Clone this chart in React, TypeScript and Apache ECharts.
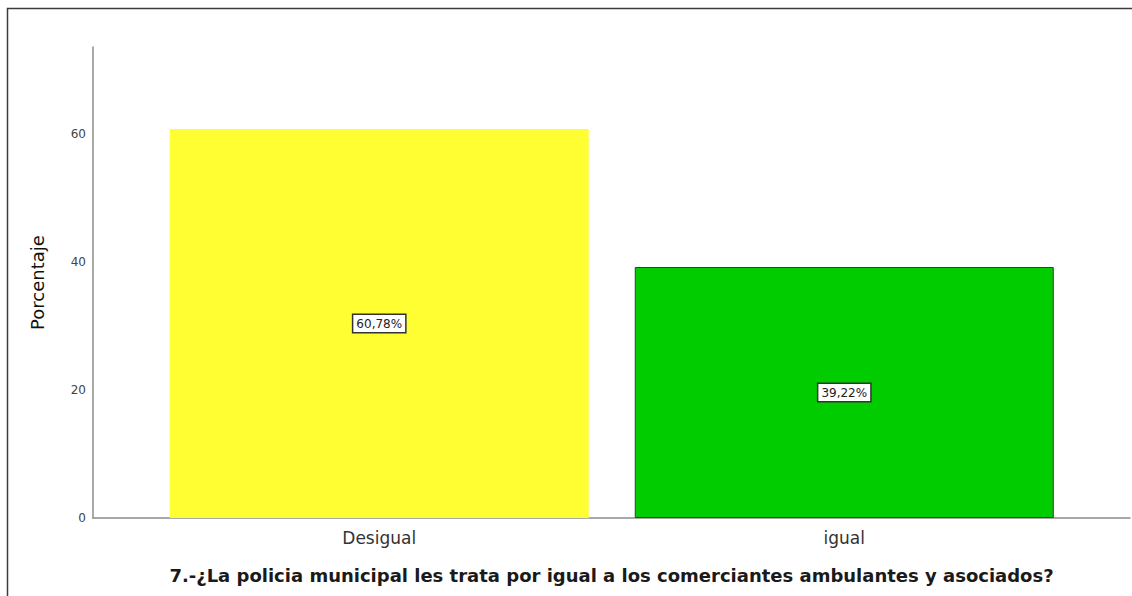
import React, { useEffect, useRef } from "react";
import * as echarts from "echarts";

const categories = ["Desigual", "igual"];
const percentages = [60.78, 39.22];
const barColors = ["#fefe33", "#00cc00"];
const barBorders = ["#fefe33", "#3a3a3a"];
const yTicks = [0, 20, 40, 60];
const yAxisName = "Porcentaje";
const xAxisName =
  "7.-¿La policia municipal les trata por igual a los comerciantes ambulantes y asociados?";

const FONT = "'DejaVu Sans', 'Liberation Sans', Arial, sans-serif";

export default function App() {
  const ref = useRef<HTMLDivElement>(null);

  useEffect(() => {
    document.body.style.margin = "0";
    if (!ref.current) return;
    const chart = echarts.init(ref.current, null, { renderer: "svg" });

    const barData = percentages.map((v, i) => ({
      value: [i, v],
      itemStyle: {
        color: barColors[i],
        borderColor: barBorders[i],
        borderWidth: i === 0 ? 0 : 1,
      },
    }));

    chart.setOption({
      animation: false,
      backgroundColor: "#ffffff",
      textStyle: { fontFamily: FONT },
      graphic: [
        {
          type: "rect",
          shape: { x: 7.5, y: 8.5, width: 1400, height: 800 },
          style: { fill: "none", stroke: "#3c3c3c", lineWidth: 1.5 },
          silent: true,
        },
      ],
      grid: { left: 93, right: 2, top: 47, bottom: 78, containLabel: false },
      xAxis: {
        type: "value",
        min: -0.6155,
        max: 1.6144,
        splitLine: { show: false },
        axisTick: { show: false },
        axisLine: { show: true, onZero: false, lineStyle: { color: "#8c8c8c", width: 1.5 } },
        axisLabel: {
          showMinLabel: false,
          showMaxLabel: false,
          margin: 11,
          fontSize: 17,
          color: "#333333",
          fontFamily: FONT,
          formatter: (v: number) =>
            Number.isInteger(v) && v >= 0 && v < categories.length ? categories[v] : "",
        },
        name: xAxisName,
        nameLocation: "middle",
        nameGap: 48,
        nameTextStyle: {
          fontSize: 18,
          fontWeight: "bold",
          color: "#1a1a1a",
          fontFamily: FONT,
        },
      },
      yAxis: {
        type: "value",
        min: 0,
        max: 73.6,
        interval: 20,
        splitLine: { show: false },
        axisTick: { show: false },
        axisLine: { show: true, onZero: false, lineStyle: { color: "#8c8c8c", width: 1.5 } },
        axisLabel: {
          margin: 7,
          fontSize: 12,
          color: "#444444",
          fontFamily: FONT,
          showMaxLabel: false,
          formatter: (v: number) => (yTicks.includes(v) ? String(v) : ""),
        },
        name: yAxisName,
        nameLocation: "middle",
        nameGap: 47,
        nameRotate: 90,
        nameTextStyle: { fontSize: 18, color: "#111111", fontFamily: FONT },
      },
      series: [
        {
          type: "bar",
          data: barData,
          barWidth: 419,
          label: {
            show: true,
            position: "inside",
            formatter: (p: any) => p.value[1].toFixed(2).replace(".", ",") + "%",
            fontSize: 12,
            color: "#222222",
            fontFamily: FONT,
            backgroundColor: "#ffffff",
            borderColor: "#333333",
            borderWidth: 1.5,
            padding: [3, 3, 2, 3],
          },
        },
      ],
    });

    return () => chart.dispose();
  }, []);

  return <div ref={ref} style={{ width: 1132, height: 596 }} />;
}
